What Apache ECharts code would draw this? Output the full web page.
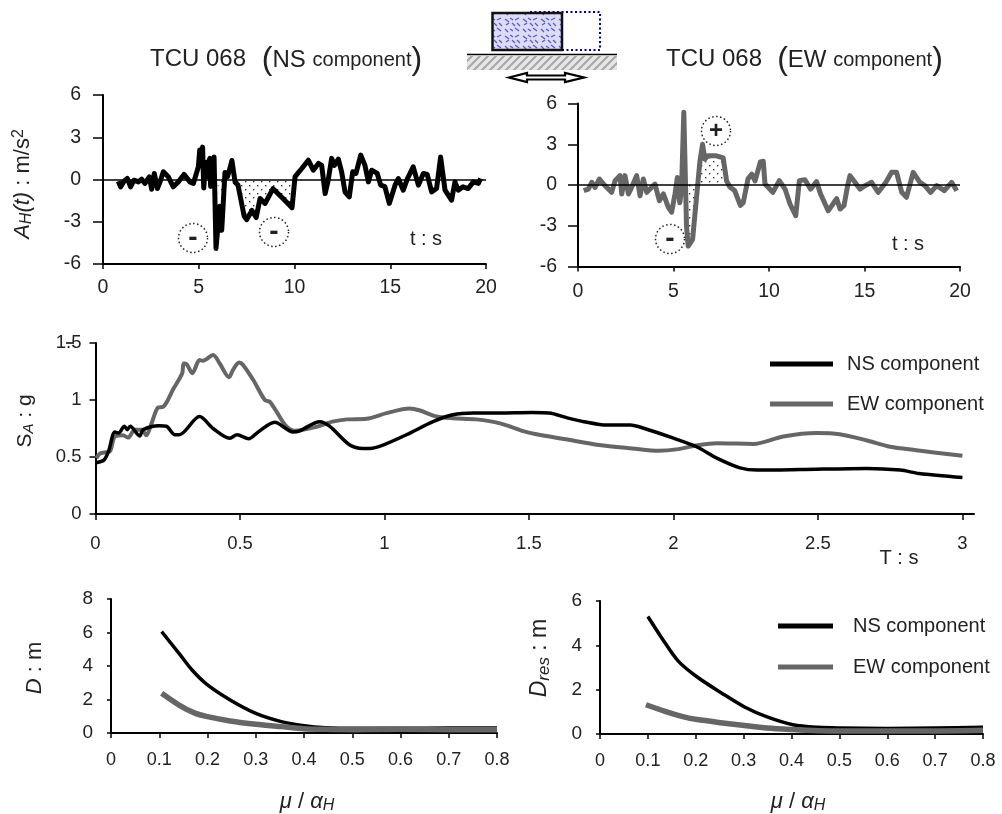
<!DOCTYPE html>
<html>
<head>
<meta charset="utf-8">
<title>TCU 068</title>
<script src="https://cdn.jsdelivr.net/npm/echarts@6/dist/echarts.min.js"></script>
<style>
  html, body { margin: 0; padding: 0; background: #fff; }
  #main { width: 1002px; height: 814px; }
</style>
</head>
<body>
<div id="main"></div>
<script>
// acceleration histories
var nsTime = [0.8,0.92,1.1,1.27,1.44,1.62,1.85,2.02,2.19,2.42,2.54,2.68,2.84,2.98,3.15,3.41,3.67,3.93,4.23,4.54,4.72,4.98,5.05,5.12,5.2,5.26,5.36,5.45,5.52,5.58,5.62,5.7,5.8,5.85,5.9,5.96,6.1,6.2,6.37,6.5,6.63,6.73,6.9,7.05,7.37,7.5,7.78,8,8.2,8.46,8.88,9.4,9.87,9.96,10.03,10.38,10.72,10.98,11.25,11.42,11.6,11.76,11.94,12.08,12.29,12.46,12.64,12.86,13.04,13.21,13.46,13.68,13.86,14.03,14.32,14.5,14.72,14.95,15.25,15.42,15.68,15.9,16.2,16.47,16.73,16.93,17.16,17.42,17.63,17.86,18.2,18.38,18.55,18.8,19.07,19.34,19.6,19.72];
var nsAccel = [-0.12,-0.52,-0.12,0.07,-0.52,-0.05,-0.17,0.02,-0.28,0.19,-0.69,0.43,-0.64,-0.17,0.55,0.19,-0.52,-0.17,0.36,-0.17,-0.28,0.9,2.1,1.5,2.3,-0.6,1.2,0.2,1.3,1.5,-0.5,0.4,1.6,1.5,-4.9,-4.9,-1.9,-3.6,0.5,0.2,0.8,1.35,-0.2,-0.4,-2.6,-2.85,-2.2,-2.7,-1.35,-1.7,-0.65,-1.35,-2,-1.9,0.2,0.78,1.37,0.66,1.14,1,-1,-0.05,1.5,1,1.45,0.55,-0.9,-1.23,0.55,0.43,1.73,1,-0.17,0.66,0.43,-0.4,-0.5,-1.7,-0.4,0.07,-0.76,0.07,0.9,-0.4,0.43,0.36,-0.88,-0.64,1.6,-0.76,-1.47,-0.17,-0.76,-0.52,-0.64,-0.17,-0.28,0.07];
var ewTime = [0.3,0.54,0.72,0.89,1.12,1.33,1.59,1.76,1.94,2.2,2.29,2.46,2.64,2.81,3.07,3.25,3.42,3.6,3.86,4.03,4.26,4.47,4.73,4.9,5.08,5.2,5.33,5.42,5.54,5.64,5.68,5.77,6,6.2,6.38,6.52,6.64,6.8,7.25,7.6,7.78,7.95,8.2,8.5,8.65,8.9,9.1,9.27,9.55,9.7,9.79,10.2,10.54,10.84,11.1,11.4,11.59,11.88,12.18,12.49,12.7,13.1,13.54,13.72,13.93,14.1,14.24,14.5,14.76,15.03,15.37,15.72,16.12,16.42,16.68,16.95,17.2,17.55,17.9,18.16,18.46,18.78,19.18,19.56,19.83];
var ewAccel = [-0.42,-0.3,0.2,-0.17,0.44,0.07,-0.3,-0.54,0.32,0.69,-0.66,0.69,-0.66,-0.17,0.69,-0.8,0.44,-0.54,-0.17,0.07,-1.15,-0.66,-1.65,-2,-0.66,0.55,-1.3,-0.3,5.35,5.35,-3,-4.5,-4,-1,1.7,3,1.9,2.15,2.15,2,0.3,-0.15,-0.4,-1.5,-1.3,0.45,0.8,0.3,1.7,1.75,0.07,-0.54,0.32,-0.3,-1.4,-2.26,0.32,0.39,-0.3,0.25,-0.66,-1.9,-1,-1.77,-1.5,-0.17,0.69,0.2,-0.3,-0.05,0.2,-0.54,0.2,0.93,0.93,-0.54,-0.9,0.93,0.2,-0.05,-0.54,-0.05,-0.42,0.2,-0.42];

// response spectra
var nsPeriod = [0.003,0.03,0.045,0.067,0.08,0.1,0.11,0.12,0.153,0.165,0.22,0.245,0.275,0.29,0.36,0.407,0.465,0.49,0.53,0.563,0.62,0.684,0.707,0.776,0.81,0.88,0.926,0.95,0.995,1.076,1.168,1.237,1.307,1.396,1.51,1.57,1.63,1.69,1.77,1.85,1.9,2,2.08,2.15,2.23,2.29,2.44,2.67,2.785,2.85,3];
var nsSa = [0.45,0.475,0.55,0.72,0.71,0.77,0.74,0.77,0.685,0.74,0.775,0.77,0.695,0.695,0.855,0.75,0.665,0.695,0.66,0.72,0.805,0.72,0.73,0.81,0.77,0.605,0.575,0.575,0.605,0.695,0.81,0.87,0.885,0.885,0.89,0.885,0.845,0.81,0.78,0.78,0.75,0.665,0.59,0.49,0.405,0.385,0.39,0.4,0.385,0.355,0.32];
var ewPeriod = [0.003,0.015,0.03,0.05,0.067,0.095,0.113,0.136,0.16,0.176,0.194,0.217,0.234,0.27,0.3,0.305,0.315,0.335,0.36,0.372,0.407,0.43,0.462,0.476,0.497,0.51,0.546,0.586,0.603,0.626,0.66,0.69,0.765,0.82,0.87,0.937,1.007,1.087,1.12,1.18,1.237,1.318,1.4,1.49,1.545,1.627,1.742,1.858,1.95,2.01,2.09,2.15,2.277,2.38,2.495,2.575,2.67,2.75,2.84,3];
var ewSa = [0.49,0.53,0.54,0.55,0.68,0.69,0.67,0.74,0.74,0.69,0.795,0.935,0.94,1.1,1.235,1.32,1.315,1.235,1.35,1.345,1.395,1.32,1.2,1.265,1.33,1.31,1.175,1,0.985,0.9,0.77,0.73,0.765,0.81,0.83,0.835,0.885,0.925,0.91,0.855,0.84,0.83,0.795,0.72,0.69,0.655,0.605,0.575,0.555,0.567,0.605,0.62,0.615,0.68,0.71,0.7,0.645,0.59,0.56,0.51];

// displacement against mu / alpha
var dNsMu = [0.105,0.141,0.168,0.2,0.247,0.3,0.353,0.4,0.445,0.5,0.6,0.7,0.8];
var dNs = [6.05,4.75,3.76,2.87,1.97,1.17,0.68,0.44,0.32,0.28,0.28,0.3,0.3];
var dEwMu = [0.105,0.141,0.175,0.2,0.247,0.3,0.353,0.4,0.445,0.5,0.6,0.7,0.8];
var dEw = [2.37,1.67,1.17,0.98,0.72,0.52,0.38,0.26,0.22,0.2,0.22,0.2,0.2];
var resNsMu = [0.1,0.13,0.163,0.203,0.256,0.302,0.349,0.403,0.456,0.503,0.6,0.7,0.8];
var resNs = [5.3,4.3,3.3,2.57,1.82,1.22,0.77,0.42,0.3,0.27,0.25,0.27,0.3];
var resEwMu = [0.096,0.136,0.175,0.203,0.256,0.302,0.349,0.403,0.456,0.503,0.6,0.7,0.8];
var resEw = [1.32,1.02,0.77,0.65,0.5,0.38,0.27,0.2,0.15,0.135,0.135,0.135,0.165];

var periodTicks = [0, 0.5, 1, 1.5, 2, 2.5, 3];

var BLACK = "#000";
var GREY = "#666";
var TEXT = "#222";
var FONT = '"Liberation Sans", Arial, sans-serif';

function zip(xs, ys) {
  return xs.map(function (x, i) { return [x, ys[i]]; });
}

// part of a trace between t0 and t1, used for the dotted area
function slice(xs, ys, t0, t1, sign) {
  var out = [[t0, 0]];
  xs.forEach(function (x, i) {
    if (x > t0 && x < t1) out.push([x, sign < 0 ? Math.min(ys[i], 0) : Math.max(ys[i], 0)]);
  });
  out.push([t1, 0]);
  return out;
}

function makeTile(w, h, draw) {
  var c = document.createElement("canvas");
  c.width = w;
  c.height = h;
  draw(c.getContext("2d"));
  return c;
}

var dots = makeTile(8, 8, function (g) {
  g.fillStyle = "#333";
  g.fillRect(1, 1, 1.4, 1.4);
  g.fillRect(5, 5, 1.4, 1.4);
});

var mottled = makeTile(18, 17, function (g) {
  g.fillStyle = "#dcdcf6";
  g.fillRect(0, 0, 18, 17);
  g.strokeStyle = "#5a5ac8";
  g.lineWidth = 1.3;
  [[1,2,5,5],[6,1,9,3],[11,3,15,1],[2,8,5,6],[8,6,11,9],[13,6,16,9],[1,12,4,15],[6,12,9,14],[11,11,15,14]].forEach(function (s) {
    g.beginPath();
    g.moveTo(s[0], s[1]);
    g.lineTo(s[2], s[3]);
    g.stroke();
  });
});

var hatch = makeTile(8, 8, function (g) {
  g.fillStyle = "#e6e6e6";
  g.fillRect(0, 0, 8, 8);
  g.strokeStyle = "#a8a8a8";
  g.lineWidth = 2;
  g.beginPath();
  g.moveTo(-2, 10); g.lineTo(10, -2);
  g.moveTo(-6, 6); g.lineTo(6, -6);
  g.moveTo(2, 14); g.lineTo(14, 2);
  g.stroke();
});

function xAxisOf(grid, min, max, interval, fontSize, margin, extra) {
  return Object.assign({
    type: "value", gridIndex: grid, min: min, max: max, interval: interval,
    splitLine: { show: false },
    axisLine: { onZero: false, lineStyle: { color: BLACK, width: 2 } },
    axisTick: { length: 5, lineStyle: { color: BLACK, width: 1.5 } },
    axisLabel: { fontSize: fontSize, fontFamily: FONT, color: TEXT, margin: margin }
  }, extra || {});
}

function yAxisOf(grid, min, max, interval, fontSize, margin, tick, pad) {
  return {
    type: "value", gridIndex: grid, min: min, max: max, interval: interval,
    splitLine: { show: false },
    axisLine: { lineStyle: { color: BLACK, width: 2 } },
    axisTick: { length: tick, lineStyle: { color: BLACK, width: 1.5 } },
    axisLabel: { fontSize: fontSize, fontFamily: FONT, color: TEXT, margin: margin, padding: [pad, 0, 0, 0] }
  };
}

function lineSeries(name, grid, data, color, width, smooth) {
  return {
    name: name, type: "line", xAxisIndex: grid, yAxisIndex: grid, data: data,
    showSymbol: false, smooth: smooth || false, z: 4,
    itemStyle: { color: color },
    lineStyle: { color: color, width: width, join: "round" }
  };
}

function dottedArea(grid, data) {
  return {
    type: "line", xAxisIndex: grid, yAxisIndex: grid, data: data,
    showSymbol: false, z: 2,
    lineStyle: { width: 0 },
    areaStyle: { color: { image: dots, repeat: "repeat" }, opacity: 1, origin: 0 }
  };
}

function zeroLine(series) {
  series.markLine = {
    silent: true, symbol: "none", animation: false,
    label: { show: false },
    lineStyle: { color: BLACK, width: 1.5, type: "solid" },
    data: [{ yAxis: 0 }]
  };
  return series;
}

function legendOf(left, top, gap, itemWidth, textPad) {
  return {
    left: left, top: top, orient: "vertical", icon: "rect",
    itemWidth: itemWidth, itemHeight: 5, itemGap: gap,
    selectedMode: false,
    data: ["NS component", "EW component"],
    textStyle: { fontSize: 20, fontFamily: FONT, color: TEXT, padding: [0, 0, 0, textPad] }
  };
}

function note(text, x, y, size, rotation) {
  return {
    type: "text", x: x, y: y, rotation: rotation || 0, z: 10,
    style: {
      text: text, align: "center", verticalAlign: "middle",
      fontSize: size, fontFamily: FONT, fill: TEXT,
      rich: {
        i: { fontStyle: "italic", fontSize: size, fontFamily: FONT, fill: TEXT },
        s: { fontStyle: "italic", fontSize: size - 6, fontFamily: FONT, fill: TEXT, verticalAlign: "bottom", padding: [8, 0, 0, 0] },
        n: { fontSize: size, fontFamily: FONT, fill: TEXT },
        u: { fontSize: size - 6, fontFamily: FONT, fill: TEXT, verticalAlign: "top", padding: [0, 0, 8, 0] },
        b: { fontSize: size + 8, fontFamily: FONT, fill: TEXT },
        c: { fontSize: size - 4, fontFamily: FONT, fill: TEXT }
      }
    }
  };
}

function badge(x, y, sign) {
  return [
    {
      type: "circle", shape: { cx: x, cy: y, r: 14.5 }, z: 9,
      style: { fill: "none", stroke: "#222", lineWidth: 1.5, lineDash: [1.5, 2.5] }
    },
    {
      type: "text", x: x, y: y, z: 10,
      style: { text: sign, align: "center", verticalAlign: "middle", fontSize: sign === "+" ? 24 : 28, fontWeight: "bold", fontFamily: FONT, fill: "#222" }
    }
  ];
}

var sketch = [
  { type: "rect", shape: { x: 467, y: 56, width: 150, height: 14 }, style: { fill: { image: hatch, repeat: "repeat" } } },
  { type: "line", shape: { x1: 467, y1: 54.5, x2: 617, y2: 54.5 }, style: { stroke: BLACK, lineWidth: 1.5 } },
  { type: "rect", shape: { x: 530, y: 12, width: 70, height: 38 }, style: { fill: "none", stroke: "#000090", lineWidth: 2, lineDash: [2, 2.5] } },
  { type: "rect", shape: { x: 492.5, y: 13, width: 69.5, height: 37 }, style: { fill: { image: mottled, repeat: "repeat" }, stroke: "#111", lineWidth: 2.5 } },
  {
    type: "polygon",
    shape: { points: [[509,77.5],[527,73],[527,75.5],[565,75.5],[565,73],[584,77.5],[565,82],[565,79.5],[527,79.5],[527,82]] },
    style: { fill: "#fff", stroke: BLACK, lineWidth: 2.2 }
  },
  // stray dash that sits on the 1.5 label in the figure
  { type: "line", shape: { x1: 66, y1: 343, x2: 74, y2: 343 }, style: { stroke: BLACK, lineWidth: 1.5 }, z: 10 }
];

var notes = [
  note("TCU 068", 198, 59, 24),
  note("{b|(}{n|NS }{c|component}{b|)}", 342, 60, 24),
  note("TCU 068", 714, 59, 24),
  note("{b|(}{n|EW }{c|component}{b|)}", 860, 60, 24),
  note("{i|A}{s|H}{i|(t)}{n| : m/s}{u|2}", 23, 184, 22, Math.PI / 2),
  note("{n|S}{s|A}{n| : g}", 25, 421, 21, Math.PI / 2),
  note("{i|D}{n| : m}", 35, 668, 22, Math.PI / 2),
  note("{i|D}{s|res}{n| : m}", 540, 658, 23, Math.PI / 2),
  note("{i|μ}{n| / }{i|α}{s|H}", 307, 802, 22),
  note("{i|μ}{n| / }{i|α}{s|H}", 798, 802, 22),
  note("t : s", 426, 239, 20),
  note("t : s", 908, 244, 20),
  note("T : s", 899, 558, 20)
];

var option = {
  animation: false,
  backgroundColor: "#fff",
  textStyle: { fontFamily: FONT },
  grid: [
    { left: 103, top: 95, width: 383, height: 169 },
    { left: 578, top: 103.5, width: 382, height: 163 },
    { left: 95.5, top: 343, width: 878.5, height: 171 },
    { left: 111, top: 599, width: 386, height: 134 },
    { left: 600, top: 601, width: 383, height: 133 }
  ],
  legend: [legendOf(765, 349, 20, 63, 9), legendOf(773, 611, 21, 55, 15)],
  xAxis: [
    xAxisOf(0, 0, 20, 5, 19.5, 14),
    xAxisOf(1, 0, 20, 5, 19.5, 15),
    xAxisOf(2, 0, 3.04, 0.5, 18.5, 20, {
      axisTick: { length: 6, customValues: periodTicks, lineStyle: { color: BLACK, width: 1.5 } },
      axisLabel: { customValues: periodTicks, fontSize: 18.5, fontFamily: FONT, color: TEXT, margin: 20 }
    }),
    xAxisOf(3, 0, 0.8, 0.1, 18, 18),
    xAxisOf(4, 0, 0.8, 0.1, 18, 18)
  ],
  yAxis: [
    yAxisOf(0, -6, 6, 3, 19.5, 22, 10, 0),
    yAxisOf(1, -6, 6, 3, 19.5, 21, 10, 0),
    yAxisOf(2, 0, 1.5, 0.5, 18.5, 14, 6, 9),
    yAxisOf(3, 0, 8, 2, 19, 18, 4, 6),
    yAxisOf(4, 0, 6, 2, 19, 18, 4, 6)
  ],
  series: [
    dottedArea(0, slice(nsTime, nsAccel, 5.96, 10.02, -1)),
    zeroLine(lineSeries("NS history", 0, zip(nsTime, nsAccel), BLACK, 5)),
    dottedArea(1, slice(ewTime, ewAccel, 5.68, 6.27, -1)),
    dottedArea(1, slice(ewTime, ewAccel, 6.3, 7.75, 1)),
    zeroLine(lineSeries("EW history", 1, zip(ewTime, ewAccel), GREY, 5)),
    lineSeries("EW component", 2, zip(ewPeriod, ewSa), GREY, 4, 0.3),
    lineSeries("NS component", 2, zip(nsPeriod, nsSa), BLACK, 3.5, 0.3),
    lineSeries("D NS", 3, zip(dNsMu, dNs), BLACK, 3.5, 0.3),
    lineSeries("D EW", 3, zip(dEwMu, dEw), GREY, 5.5, 0.3),
    lineSeries("Dres NS", 4, zip(resNsMu, resNs), BLACK, 3.5, 0.3),
    lineSeries("Dres EW", 4, zip(resEwMu, resEw), GREY, 5.5, 0.3)
  ],
  graphic: {
    elements: sketch.concat(notes, badge(193, 238, "-"), badge(274, 232, "-"), badge(670, 239, "-"), badge(716, 131, "+"))
  }
};

var myChart = echarts.init(document.getElementById("main"), null, { renderer: "canvas" });
myChart.setOption(option);
</script>
</body>
</html>
